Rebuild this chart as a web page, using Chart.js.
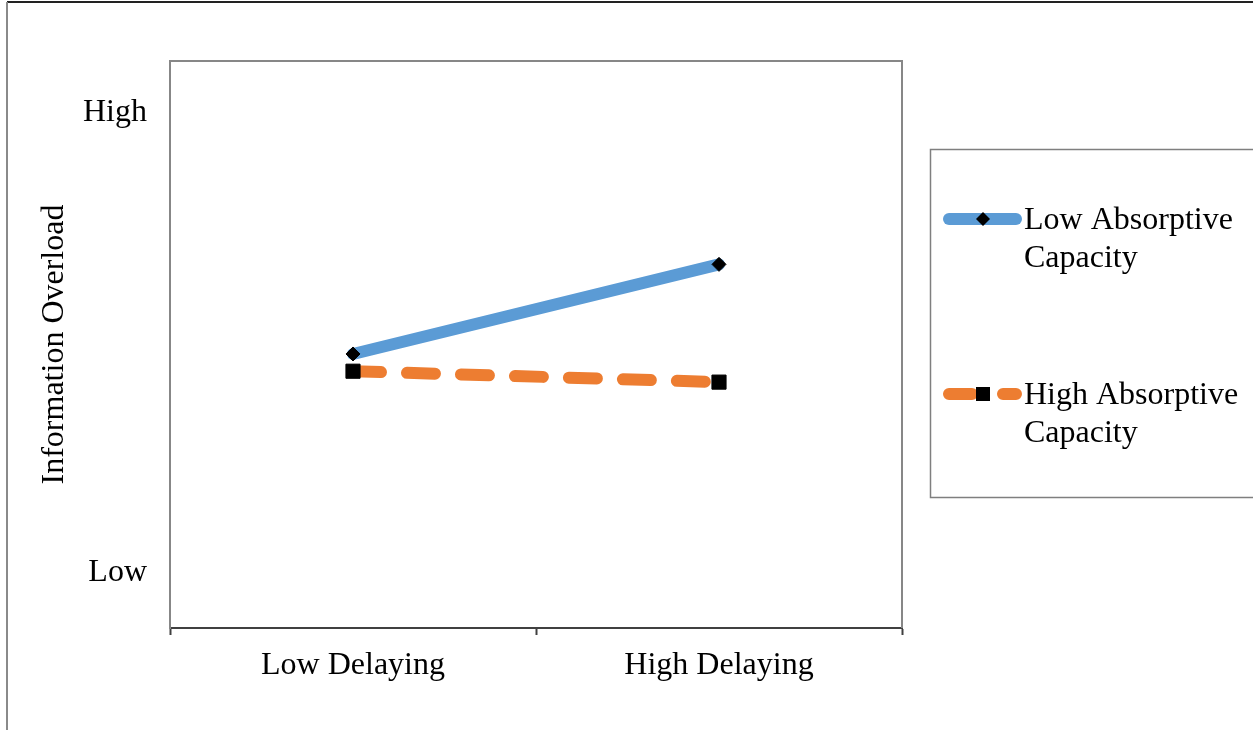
<!DOCTYPE html>
<html>
<head>
<meta charset="utf-8">
<script src="https://cdn.jsdelivr.net/npm/chart.js@4"></script>
<style>
  html, body { margin: 0; padding: 0; background: #fff; }
  #wrap { width: 1253px; height: 730px; }
</style>
</head>
<body>
<div id="wrap"><canvas id="overload" width="1253" height="730"></canvas></div>
<script>
// categories (x axis)
const delaying = ['Low Delaying', 'High Delaying'];
// series values
const lowAbsorptive = [4.80, 6.36];
const highAbsorptive = [4.50, 4.31];
// y axis: only two labelled positions
const yTickValues = [1, 9];
const yTickLabels = ['Low', 'High'];
// legend text, one line per entry
const legendLines = [
  ['Low Absorptive', 'Capacity'],
  ['High Absorptive', 'Capacity']
];

const serif = '"Times New Roman", "Liberation Serif", serif';

// 外框、繪圖區邊框與自訂圖例
const framePlugin = {
  id: 'frame',
  afterDatasetsDraw(chart) {
    const {ctx, chartArea: a} = chart;
    ctx.save();
    // plot area border (top / right)
    ctx.strokeStyle = '#878787';
    ctx.lineWidth = 2;
    ctx.beginPath();
    ctx.moveTo(a.left, a.top);
    ctx.lineTo(a.right, a.top);
    ctx.lineTo(a.right, a.bottom);
    ctx.stroke();
    ctx.restore();
  },
  afterDraw(chart) {
    const {ctx} = chart;
    ctx.save();
    // outer frame: top + left
    ctx.strokeStyle = '#222';
    ctx.lineWidth = 2;
    ctx.beginPath();
    ctx.moveTo(7, 2);
    ctx.lineTo(1253, 2);
    ctx.stroke();
    ctx.strokeStyle = '#8a8a8a';
    ctx.beginPath();
    ctx.moveTo(7, 2);
    ctx.lineTo(7, 730);
    ctx.stroke();

    // legend box
    ctx.strokeStyle = '#7f7f7f';
    ctx.lineWidth = 1.5;
    ctx.strokeRect(930.5, 149.5, 330, 348);

    const rows = [219, 394];
    chart.data.datasets.forEach((ds, i) => {
      const y = rows[i];
      ctx.strokeStyle = ds.borderColor;
      ctx.lineWidth = ds.borderWidth;
      ctx.lineCap = 'round';
      ctx.beginPath();
      if (ds.borderDash && ds.borderDash.length) {
        ctx.moveTo(949, y); ctx.lineTo(972, y);
        ctx.moveTo(1003, y); ctx.lineTo(1016, y);
      } else {
        ctx.moveTo(949, y); ctx.lineTo(1016, y);
      }
      ctx.stroke();
      // marker
      ctx.fillStyle = '#000';
      ctx.beginPath();
      if (ds.pointStyle === 'rectRot') {
        const r = 7;
        ctx.moveTo(983, y - r); ctx.lineTo(983 + r, y);
        ctx.lineTo(983, y + r); ctx.lineTo(983 - r, y);
        ctx.closePath();
      } else {
        ctx.rect(976, y - 7, 14, 14);
      }
      ctx.fill();
      // text
      ctx.fillStyle = '#000';
      ctx.font = '32px ' + serif;
      ctx.textBaseline = 'alphabetic';
      ctx.textAlign = 'left';
      legendLines[i].forEach((t, j) => ctx.fillText(t, 1024, y + 10 + j * 38));
    });
    ctx.restore();
  }
};

new Chart(document.getElementById('overload'), {
  type: 'line',
  data: {
    labels: delaying,
    datasets: [
      {
        label: legendLines[0].join(' '),
        data: lowAbsorptive,
        borderColor: '#5B9BD5',
        borderWidth: 12,
        borderCapStyle: 'round',
        pointStyle: 'rectRot',
        pointRadius: 7,
        pointBackgroundColor: '#000',
        pointBorderColor: '#000',
        pointBorderWidth: 1,
        fill: false,
        tension: 0
      },
      {
        label: legendLines[1].join(' '),
        data: highAbsorptive,
        borderColor: '#ED7D31',
        borderWidth: 12,
        borderCapStyle: 'round',
        borderDash: [28, 26],
        pointStyle: 'rect',
        pointRadius: 10,
        pointBackgroundColor: '#000',
        pointBorderColor: '#000',
        pointBorderWidth: 1,
        fill: false,
        tension: 0
      }
    ]
  },
  options: {
    responsive: false,
    animation: false,
    layout: { padding: { top: 61, right: 351, bottom: 0, left: 0 } },
    plugins: {
      legend: { display: false },
      tooltip: { enabled: false }
    },
    scales: {
      x: {
        offset: true,
        grid: {
          offset: true,
          drawOnChartArea: false,
          drawTicks: true,
          tickLength: 7,
          tickWidth: 2,
          tickColor: '#404040'
        },
        border: { color: '#404040', width: 2 },
        ticks: {
          color: '#000',
          padding: 11,
          font: { family: serif, size: 32 }
        },
        afterFit(axis) { axis.height = 102; }
      },
      y: {
        min: 0.03,
        max: 9.9,
        grid: { display: false, drawTicks: false },
        border: { color: '#878787', width: 2 },
        afterBuildTicks(axis) {
          axis.ticks = yTickValues.map(v => ({ value: v }));
        },
        ticks: {
          color: '#000',
          padding: 23,
          font: { family: serif, size: 32 },
          callback: (v) => yTickLabels[yTickValues.indexOf(v)]
        },
        title: {
          display: true,
          text: 'Information Overload',
          color: '#000',
          padding: { top: 35, bottom: 0 },
          font: { family: serif, size: 32, weight: 'normal' }
        },
        afterFit(axis) { axis.width = 170; }
      }
    }
  },
  plugins: [framePlugin]
});
</script>
</body>
</html>
